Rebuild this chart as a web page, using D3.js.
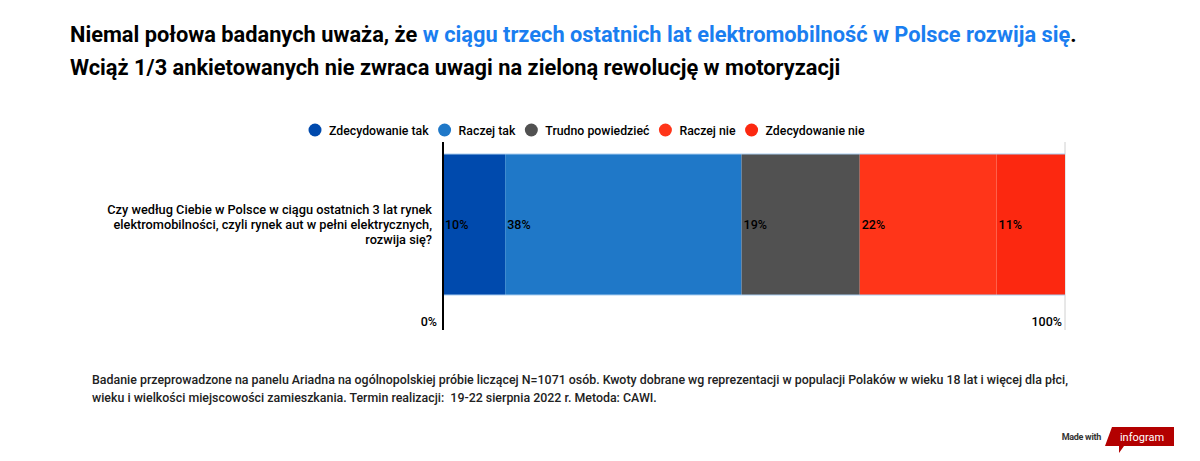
<!DOCTYPE html>
<html><head><meta charset="utf-8">
<script src="https://cdn.jsdelivr.net/npm/d3@7"></script>
<style>
html,body{margin:0;padding:0;background:#fff;}
svg{display:block;font-family:Roboto, "Noto Sans", sans-serif;}
</style></head>
<body><svg id="c" width="1200" height="461"></svg>
<script>
const categories = ["Zdecydowanie tak","Raczej tak","Trudno powiedzieć","Raczej nie","Zdecydowanie nie"];
const values = [10, 38, 19, 22, 11];
const colors = ["#004aad","#1f78c8","#515151","#ff3519","#fc2810"];
const question = ["Czy według Ciebie w Polsce w ciągu ostatnich 3 lat rynek","elektromobilności, czyli rynek aut w pełni elektrycznych,","rozwija się?"];
const xTicks = [0, 100];

const svg = d3.select("#c");

// Title
const t1 = svg.append("text").attr("x",70).attr("y",42).attr("font-size",21.8).attr("font-weight",700).attr("fill","#000");
t1.append("tspan").text("Niemal połowa badanych uważa, że ");
t1.append("tspan").attr("fill","#1a7ef0").text("w ciągu trzech ostatnich lat elektromobilność w Polsce rozwija się");
t1.append("tspan").text(".");
svg.append("text").attr("x",70).attr("y",75).attr("font-size",21.8).attr("font-weight",700).attr("fill","#000")
  .text("Wciąż 1/3 ankietowanych nie zwraca uwagi na zieloną rewolucję w motoryzacji");

// Legend
const legend = svg.append("g");
let cx = 315;
categories.forEach((c,i)=>{
  const g = legend.append("g");
  g.append("circle").attr("cx",cx).attr("cy",130).attr("r",6.5).attr("fill",colors[i]);
  const tx = g.append("text").attr("x",cx+14).attr("y",134.5).attr("font-size",12.3).attr("font-weight",500).attr("fill","#000").text(c);
  cx += 14 + tx.node().getComputedTextLength() + 16;
});

// Scales
const x = d3.scaleLinear().domain([0,100]).range([443,1065]);
const y = d3.scaleBand().domain(["q"]).range([154,295]).padding(0);

// gridline at 100
svg.append("line").attr("x1",x(100)).attr("x2",x(100)).attr("y1",142).attr("y2",330).attr("stroke","#d0d0d0").attr("stroke-width",1);

// Stacked bars
let cum = 0;
const stack = values.map((v,i)=>{ const s={v, x0:cum, x1:cum+v, c:colors[i]}; cum+=v; return s; });
svg.selectAll("rect.bar").data(stack).enter().append("rect").attr("class","bar")
  .attr("x",d=>x(d.x0)).attr("width",d=>x(d.x1)-x(d.x0))
  .attr("y",y("q")).attr("height",y.bandwidth()).attr("fill",d=>d.c);
// light edges
svg.append("line").attr("x1",x(0)).attr("x2",x(100)).attr("y1",y("q")).attr("y2",y("q")).attr("stroke","#a9cdf0").attr("stroke-width",1);
svg.append("line").attr("x1",x(0)).attr("x2",x(100)).attr("y1",y("q")+y.bandwidth()).attr("y2",y("q")+y.bandwidth()).attr("stroke","#a9cdf0").attr("stroke-width",1);

svg.selectAll("text.val").data(stack).enter().append("text").attr("class","val")
  .attr("x",d=>x(d.x0)+2).attr("y",y("q")+y.bandwidth()/2+4.5)
  .attr("font-size",12.5).attr("font-weight",500).attr("fill","#000").text(d=>d.v+"%");

// axis line
svg.append("line").attr("x1",x(0)).attr("x2",x(0)).attr("y1",142).attr("y2",330).attr("stroke","#000").attr("stroke-width",2);

// x tick labels
svg.selectAll("text.xt").data(xTicks).enter().append("text").attr("class","xt")
  .attr("x",d=>d===0? x(d)-6 : x(d)-3).attr("y",326).attr("text-anchor","end")
  .attr("font-size",12.5).attr("font-weight",500).attr("fill","#000").text(d=>d+"%");

// Category label
const ql = svg.append("text").attr("text-anchor","end").attr("font-size",12.75).attr("font-weight",500).attr("fill","#000");
question.forEach((l,i)=>ql.append("tspan").attr("x",432).attr("y",214+i*15).text(l));

// Footnote
const fn = ["Badanie przeprowadzone na panelu Ariadna na ogólnopolskiej próbie liczącej N=1071 osób. Kwoty dobrane wg reprezentacji w populacji Polaków w wieku 18 lat i więcej dla płci,",
 "wieku i wielkości miejscowości zamieszkania. Termin realizacji:  19-22 sierpnia 2022 r. Metoda: CAWI."];
fn.forEach((l,i)=>svg.append("text").attr("x",92).attr("y",384+i*18).attr("font-size",12.4).attr("font-weight",500).attr("fill","#222").style("white-space","pre").text(l));

// Made with infogram
svg.append("text").attr("x",1101).attr("y",440).attr("text-anchor","end").attr("font-size",9).attr("font-weight",700).attr("fill","#333").attr("letter-spacing","-0.3").text("Made with");
svg.append("path").attr("d","M1112,427 L1174,427 L1174,446 L1124,446 L1119,453 L1119,446 L1105,446 Z").attr("fill","#b30000");
svg.append("text").attr("x",1142).attr("y",441).attr("text-anchor","middle").attr("font-size",11).attr("fill","#fff").text("infogram");
</script></body></html>
